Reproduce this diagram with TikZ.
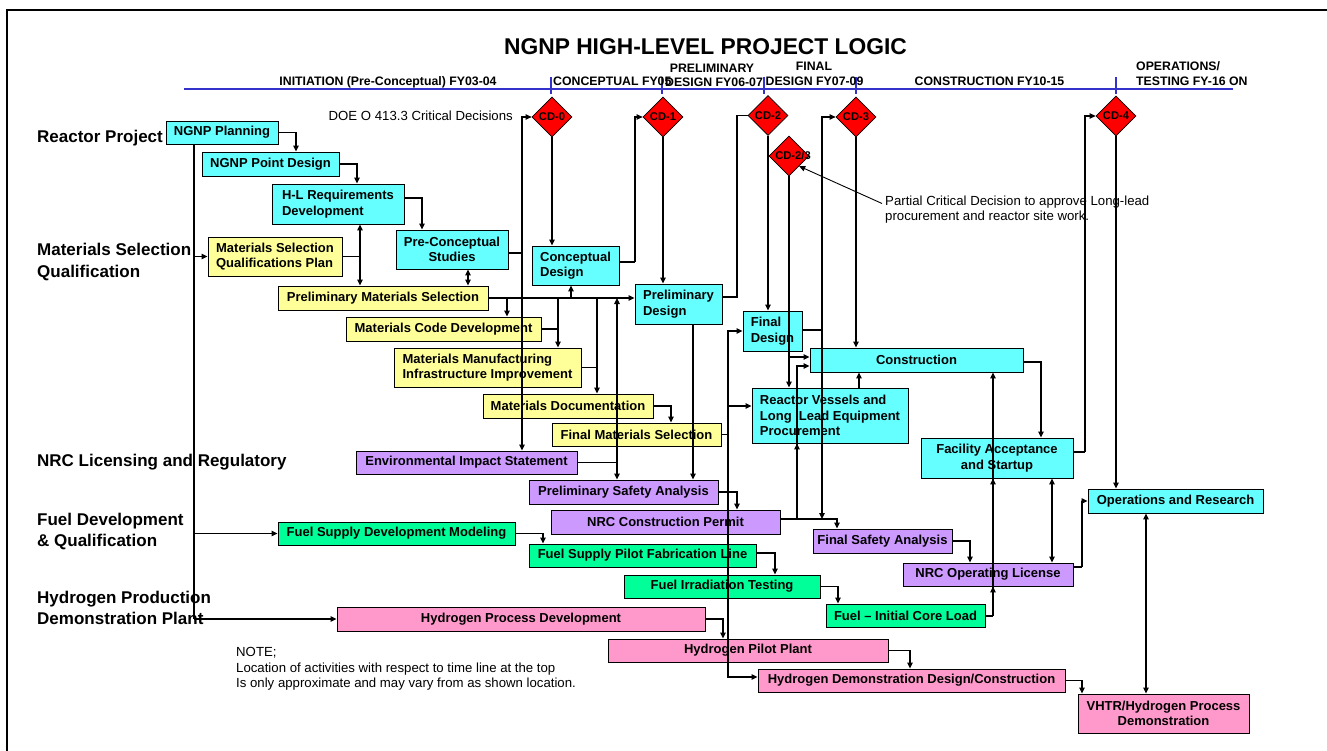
\documentclass[tikz,border=0pt]{standalone}
\usepackage{fontspec}
\setmainfont{Liberation Sans}
\usetikzlibrary{shapes.geometric,arrows.meta}
\definecolor{cyanc}{HTML}{66FFFF}
\definecolor{yelc}{HTML}{FFFF99}
\definecolor{purc}{HTML}{CC99FF}
\definecolor{grnc}{HTML}{00FF99}
\definecolor{pnkc}{HTML}{FF99CC}
\definecolor{tlblue}{HTML}{3333CC}
\newcommand\bx[7]{\node[#2, minimum width={(#5-#3)*1pt}, minimum height={(#6-#4)*1pt}] (#1) at ({(#3+#5)/2},{(#4+#6)/2}) {#7};}
\tikzset{
  bx/.style={draw=black, line width=0.9pt, inner sep=0pt, text=black, font=\fontsize{13}{15.5}\selectfont\bfseries},
  cy/.style={bx, fill=cyanc}, yl/.style={bx, fill=yelc}, pu/.style={bx, fill=purc},
  gr/.style={bx, fill=grnc}, pk/.style={bx, fill=pnkc},
  dia/.style={diamond, draw=black, fill=red, minimum width=40pt, minimum height=40pt, inner sep=0pt, line width=0.8pt},
  dlab/.style={font=\fontsize{11.2}{12}\selectfont\bfseries, inner sep=0pt},
  arr/.style={line width=1.1pt, -{Triangle[length=6pt,width=5.5pt]}},
  arr2/.style={line width=1.1pt, {Triangle[length=6pt,width=5.5pt]}-{Triangle[length=6pt,width=5.5pt]}},
  ln/.style={line width=1.1pt},
  rowlab/.style={anchor=base west, inner sep=0pt, font=\fontsize{17}{21}\selectfont\bfseries},
  phase/.style={anchor=base, inner sep=0pt, font=\fontsize{12.3}{15}\selectfont\bfseries},
  plain/.style={inner sep=0pt, font=\fontsize{13.2}{15.7}\selectfont},
  tl/.style={tlblue, line width=2.5pt},
}
\begin{document}
\begin{tikzpicture}[x=1pt,y=-1pt]
\useasboundingbox (0,0) rectangle (1327,751);
\fill[white] (0,0) rectangle (1327,751);
% frame
\draw[line width=2pt] (7,751) -- (7,10) -- (1327,10);
% title and time line
\node[anchor=base, inner sep=0pt, font=\fontsize{22.8}{26}\selectfont\bfseries] (title) at (705.5,55) {NGNP HIGH-LEVEL PROJECT LOGIC};
\draw[tl] (184,89) -- (1233,89);
\foreach \t in {551,662,764,856,1116} \draw[tl] (\t,77) -- (\t,94);
\node[phase] (ph1) at (388,86) {INITIATION (Pre-Conceptual) FY03-04};
\node[phase, anchor=base west] (ph2) at (553,85.3) {CONCEPTUAL FY05};
\node[phase] (ph3a) at (712,72.7) {PRELIMINARY};
\node[phase] (ph3b) at (714,87) {DESIGN FY06-07};
\node[phase] (ph4a) at (814,70.5) {FINAL};
\node[phase] (ph4b) at (814.5,85.3) {DESIGN FY07-09};
\node[phase] (ph5) at (989.5,85.3) {CONSTRUCTION FY10-15};
\node[phase, anchor=base west] (ph6a) at (1136,70.5) {OPERATIONS/};
\node[phase, anchor=base west] (ph6b) at (1136,85.5) {TESTING FY-16 ON};
\node[plain, anchor=base east] (doe) at (513,120.7) {DOE O 413.3 Critical Decisions};
% row labels
\node[rowlab] (lrp) at (37,142.7) {Reactor Project};
\node[rowlab] (lms1) at (37,256) {Materials Selection};
\node[rowlab] (lms2) at (37,277.5) {Qualification};
\node[rowlab] (lnrc) at (37,466.5) {NRC Licensing and Regulatory};
\node[rowlab] (lfd1) at (37,525.7) {Fuel Development};
\node[rowlab] (lfd2) at (37,546) {\& Qualification};
\node[rowlab] (lhp1) at (37,603.3) {Hydrogen Production};
\node[rowlab] (lhp2) at (37,624.3) {Demonstration Plant};
% decisions
\node[dia, label={[dlab]center:CD-0}] (cd0) at (552,117) {};
\node[dia, label={[dlab]center:CD-1}] (cd1) at (663,117) {};
\node[dia, label={[dlab]center:CD-2}] (cd2) at (768,115.5) {};
\node[dia, label={[dlab, xshift=4pt]center:CD-2/3}] (cd23) at (789,156) {};
\node[dia, label={[dlab]center:CD-3}] (cd3) at (856,117) {};
\node[dia, label={[dlab]center:CD-4}] (cd4) at (1116,116) {};
% cyan boxes
\bx{plan}{cy}{166}{121}{278}{144}{NGNP Planning}
\bx{pnt}{cy}{202}{152}{339}{176}{NGNP Point Design}
\bx{hl}{cy,align=left}{272}{184}{404}{224}{H-L Requirements\\Development}
\bx{pcs}{cy,align=center}{396}{230}{508}{269}{Pre-Conceptual\\Studies}
\bx{cd}{cy,align=left}{532}{246}{619}{285}{Conceptual\\Design}
\bx{pd}{cy,align=left}{635}{284}{722}{324}{Preliminary\\Design}
\bx{fd}{cy,align=left}{743}{311}{802}{351}{Final\\Design}
\bx{con}{cy}{810}{348}{1023}{372}{Construction}
\bx{rv}{cy,align=left}{752}{388}{908}{443}{Reactor Vessels and\\Long\ \ Lead Equipment\\Procurement}
\bx{fa}{cy,align=center}{921}{438}{1073}{478}{Facility Acceptance\\and Startup}
\bx{ops}{cy}{1088}{489}{1263}{513}{Operations and Research}
% yellow boxes
\bx{msq}{yl,align=left}{208}{237}{342}{276}{Materials Selection\\Qualifications Plan}
\bx{pms}{yl}{278}{286}{488}{310}{Preliminary Materials Selection}
\bx{mcd}{yl}{346}{317}{541}{341}{Materials Code Development}
\bx{mmi}{yl,align=left}{394}{348}{581}{387}{Materials Manufacturing\\Infrastructure Improvement}
\bx{mdoc}{yl}{483}{394}{653}{418}{Materials Documentation}
\bx{fms}{yl}{552}{423}{721}{446}{Final Materials Selection}
% purple boxes
\bx{eis}{pu}{356}{451}{577}{474}{Environmental Impact Statement}
\bx{psa}{pu}{529}{480}{718}{504}{Preliminary Safety Analysis}
\bx{ncp}{pu}{551}{510}{780}{534}{NRC Construction Permit}
\bx{fsa}{pu}{813}{529}{952}{553}{Final Safety Analysis}
\bx{nol}{pu}{903}{563}{1073}{586}{NRC Operating License}
% green boxes
\bx{fsdm}{gr}{278}{522}{515}{545}{Fuel Supply Development Modeling}
\bx{fspf}{gr}{529}{544}{756}{567}{Fuel Supply Pilot Fabrication Line}
\bx{fit}{gr}{624}{575}{820}{598}{Fuel Irradiation Testing}
\bx{ficl}{gr}{826}{604}{985}{627}{Fuel – Initial Core Load}
% pink boxes
\bx{hpd}{pk}{337}{607}{705}{631}{Hydrogen Process Development}
\bx{hpp}{pk}{608}{639}{888}{662}{Hydrogen Pilot Plant}
\bx{hdd}{pk}{758}{669}{1065}{692}{Hydrogen Demonstration Design/Construction}
\bx{vhtr}{pk,align=center}{1078}{694}{1249}{733}{VHTR/Hydrogen Process\\Demonstration}
% notes
\node[plain, anchor=north west, align=left] (pcdn) at (885,195.5) {Partial Critical Decision to approve Long-lead\\procurement and reactor site work.};
\node[plain, anchor=north west, align=left] (note) at (236,647) {NOTE;\\Location of activities with respect to time line at the top\\Is only approximate and may vary from as shown location.};
% junction coordinates
\coordinate (j1) at (296,0);
\coordinate (j2) at (357,0);
\coordinate (j3) at (422,198);
\coordinate (j4) at (360,256.5);
\coordinate (j5) at (468,0);
\coordinate (j6) at (522,253);
\coordinate (j7) at (635,262);
\coordinate (j8) at (737,297);
\coordinate (j9) at (789,357);
\coordinate (j10) at (859,0);
\coordinate (j11) at (1041,362);
\coordinate (j12) at (1085,452);
\coordinate (j13) at (1146,0);
\coordinate (j14) at (1082,567);
\coordinate (j15) at (993,616);
\coordinate (j16) at (1052,0);
\coordinate (j17) at (970,541);
\coordinate (j18) at (507,298);
\coordinate (j19) at (571,298);
\coordinate (j20) at (558,298);
\coordinate (j21) at (597,298);
\coordinate (j22) at (617,298);
\coordinate (j23) at (671,0);
\coordinate (j24) at (728,434.5);
\coordinate (j25) at (693,0);
\coordinate (j26) at (737,0);
\coordinate (j27) at (797,519);
\coordinate (j28) at (837,0);
\coordinate (j29) at (822,330);
\coordinate (j30) at (543,0);
\coordinate (j31) at (775,553);
\coordinate (j32) at (838,0);
\coordinate (j33) at (723,0);
\coordinate (j34) at (910,0);
\coordinate (j35) at (1082,0);
\coordinate (sp) at (194,0);
% reactor chain
\draw[arr] (plan.east) -| (pnt.north -| j1);
\draw[arr] (pnt.east) -| (hl.north -| j2);
\draw[arr] (hl.east |- j3) -| (pcs.north -| j3);
\draw[ln] (msq.east) -- (j4);
\draw[arr] (j4) -- (hl.south -| j4);
\draw[arr] (j4) -- (pms.north -| j4);
\draw[arr2] (pcs.south -| j5) -- (pms.north -| j5);
\draw[ln] (pcs.east |- j6) -- (j6);
\draw[arr] (j6) |- (cd0.west);
\draw[arr] (j6) -- (eis.north -| j6);
\draw[arr] (cd0.south) -- (cd.north -| cd0.south);
\draw[ln] (cd.east |- j7) -- (j7);
\draw[arr] (j7) |- (cd1.west);
\draw[arr] (cd1.south) -- (pd.north -| cd1.south);
\draw[ln] (pd.east |- j8) -- (j8) |- (cd2.west);
\draw[arr] (cd2.south) -- (fd.north -| cd2.south);
\draw[arr] (cd23.south) -- (rv.north -| cd23.south);
\draw[arr] (j9) -- (con.west |- j9);
\draw[arr] (cd3.south) -- (con.north -| cd3.south);
\draw[arr] (rv.north -| j10) -- (con.south -| j10);
\draw[arr] (con.east |- j11) -| (fa.north -| j11);
\draw[ln] (fa.east |- j12) -- (j12);
\draw[arr] (j12) |- (cd4.west);
\draw[arr] (cd4.south) -- (ops.north -| cd4.south);
\draw[arr2] (ops.south -| j13) -- (vhtr.north -| j13);
\draw[ln] (nol.east |- j14) -- (j14);
\draw[arr] (j14) |- (ops.west);
\draw[ln] (ficl.east |- j15) -- (j15);
\draw[arr] (j15) -- (nol.south -| j15);
\draw[arr] (j15) -- (fa.south -| j15);
\draw[arr] (j15) -- (con.south -| j15);
\draw[arr2] (nol.north -| j16) -- (fa.south -| j16);
\draw[arr] (fsa.east) -| (nol.north -| j17);
% materials trunk
\draw[arr] (pms.east) -- (pms.east -| pd.west);
\draw[arr] (j18) -- (mcd.north -| j18);
\draw[arr] (j19) -- (cd.south -| j19);
\draw[arr] (j20) -- (mmi.north -| j20);
\draw[ln] (mcd.east) -- (mcd.east -| j20);
\draw[arr] (j21) -- (mdoc.north -| j21);
\draw[ln] (mmi.east) -- (mmi.east -| j21);
\draw[arr2] (j22) -- (psa.north -| j22);
\draw[ln] (eis.east) -- (eis.east -| j22);
\draw[arr] (mdoc.east) -| (fms.north -| j23);
\draw[ln] (fms.east) -- (j24);
\draw[arr] (j24) |- (fd.west);
\draw[arr] (j24) |- ([yshift=9.5pt]rv.west);
\draw[arr] (j24) |- ([yshift=3.5pt]hdd.west);
% licensing
\draw[arr] (pd.south -| j25) -- (psa.north -| j25);
\draw[arr] (psa.east) -| (ncp.north -| j26);
\draw[arr] (ncp.east |- j27) -| (fsa.north -| j28);
\draw[arr] (j27) -- (rv.south -| j27);
\draw[arr] (j27) |- ([yshift=-6pt]con.west);
\draw[ln] (fd.east |- j29) -- (j29);
\draw[arr] (j29) |- (cd3.west);
\draw[arr] (j29) -- (j29 |- j27);
% fuel and hydrogen
\draw[arr] (fsdm.east) -| (fspf.north -| j30);
\draw[arr] (fspf.east |- j31) -| (fit.north -| j31);
\draw[arr] (fit.east) -| (ficl.north -| j32);
\draw[arr] (hpd.east) -| (hpp.north -| j33);
\draw[arr] (hpp.east) -| (hdd.north -| j34);
\draw[arr] (hdd.east) -| (vhtr.north -| j35);
% spine
\draw[ln] (plan.south -| sp) -- (hpd.west -| sp);
\draw[arr] (msq.west -| sp) -- (msq.west);
\draw[arr] (fsdm.west -| sp) -- (fsdm.west);
\draw[arr] (hpd.west -| sp) -- (hpd.west);
% annotation
\draw[line width=0.9pt, -{Triangle[length=6pt,width=5.5pt]}] ([xshift=-3pt,yshift=-8pt]pcdn.north west) -- (cd23.south east);
\end{tikzpicture}
\end{document}
